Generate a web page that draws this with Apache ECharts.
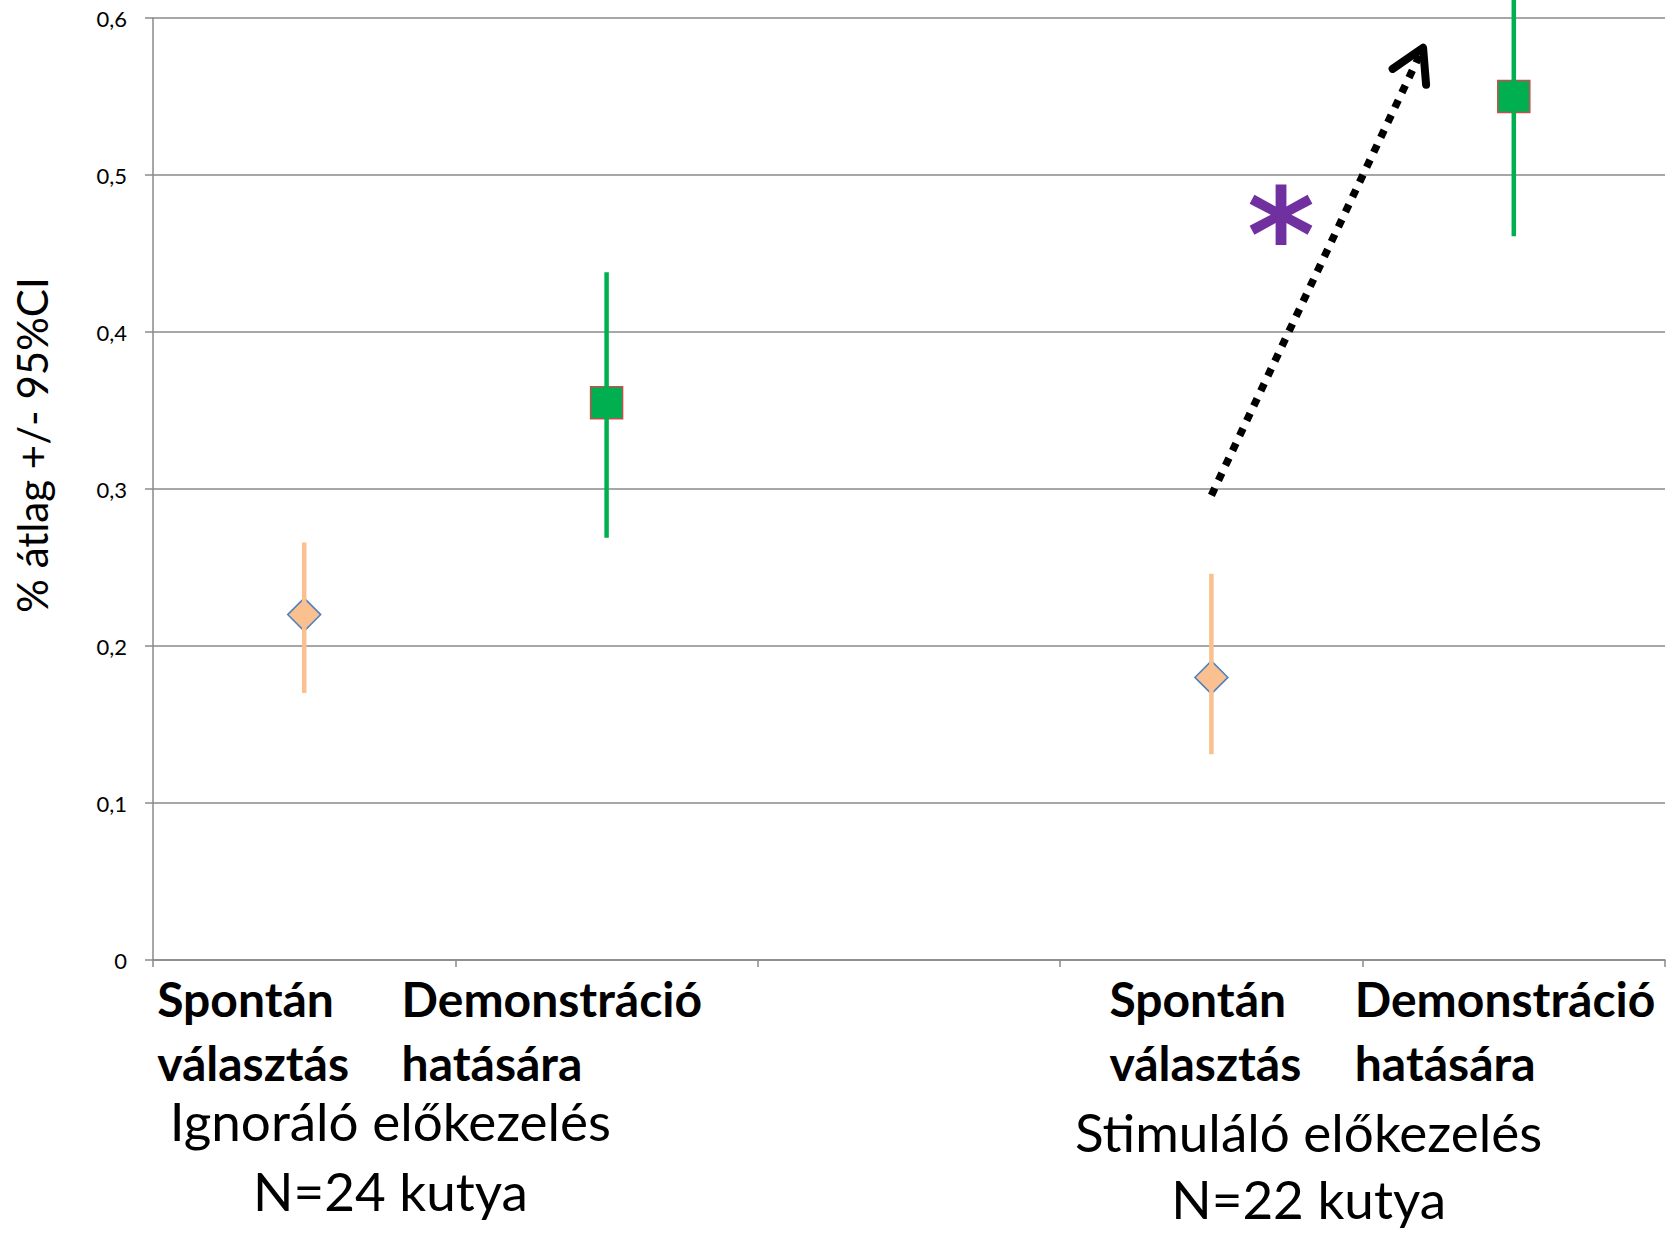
<!DOCTYPE html>
<html>
<head>
<meta charset="utf-8">
<script src="https://cdn.jsdelivr.net/npm/echarts@6/dist/echarts.min.js"></script>
<style>
html,body{margin:0;padding:0;background:#ffffff;}
#chart{width:1679px;height:1234px;}
</style>
</head>
<body>
<div id="chart"></div>
<script>
// ---------- DATA ----------
const categories = ['Spontán\nválasztás', 'Demonstráció\nhatására', '', 'Spontán\nválasztás', 'Demonstráció\nhatására'];
const conditions = ['spontan', 'demo', '', 'spontan', 'demo'];
const groupTitles = [['Ignoráló előkezelés', 'N=24 kutya'], ['Stimuláló előkezelés', 'N=22 kutya']];
const groupCategories = [[0, 1], [3, 4]];
const means = [0.22, 0.355, null, 0.18, 0.55];
const ciLower = [0.17, 0.269, null, 0.131, 0.461];
const ciUpper = [0.266, 0.438, null, 0.246, 0.639];
const yTickValues = [0, 0.1, 0.2, 0.3, 0.4, 0.5, 0.6];
const yTickLabels = ['0', '0,1', '0,2', '0,3', '0,4', '0,5', '0,6'];
const yAxisTitle = '% átlag +/- 95%CI';
// annotation: arrow from category 3 (value) to between categories 3 and 4
const arrowFrom = [3, 0.296];
const arrowTo = [3.70, 0.581];
const asteriskAt = [3.23, 0.478];
const asteriskText = '*';

// ---------- STYLE / LAYOUT (not data) ----------
const FONT = 'Lato, "Open Sans", "DejaVu Sans", sans-serif';
const GRAY = '#8a8a8a';
const colors = {
  spontan: { bar: '#FAC090', fill: '#FAC090', border: '#4F81BD' },
  demo: { bar: '#00B050', fill: '#00B050', border: '#C0504D' }
};
const labelDx = [-147, -205, 0, -102, -159];
const groupDx = [-65, -54];
const groupDy = [[160, 230], [171, 238]];

const xc = i => i + 0.5; // category centre on the value axis

const errData = [];
means.forEach((m, i) => { if (m != null) errData.push([xc(i), ciLower[i], ciUpper[i], i]); });
const diamondData = [], squareData = [];
means.forEach((m, i) => {
  if (m == null) return;
  if (conditions[i] === 'spontan') diamondData.push([xc(i), m]);
  else squareData.push([xc(i), m]);
});

const chart = echarts.init(document.getElementById('chart'), null, { renderer: 'svg' });

const option = {
  backgroundColor: '#ffffff',
  animation: false,
  grid: { left: 153, right: 14, top: 18, bottom: 274 },
  xAxis: {
    type: 'value', min: 0, max: categories.length, interval: 1,
    axisLine: { show: true, lineStyle: { color: GRAY, width: 1.5 } },
    axisTick: { show: true, length: 7, lineStyle: { color: GRAY, width: 1.5 } },
    axisLabel: { show: false },
    splitLine: { show: false }
  },
  yAxis: {
    type: 'value', min: 0, max: 0.6, interval: 0.1,
    name: yAxisTitle, nameLocation: 'middle', nameRotate: 90, nameGap: 100,
    nameTextStyle: { fontFamily: FONT, fontSize: 42, color: '#000', padding: [0, 0, 0, 88] },
    axisLine: { show: true, lineStyle: { color: GRAY, width: 1.5 } },
    axisTick: { show: true, length: 8, lineStyle: { color: GRAY, width: 1.5 } },
    axisLabel: {
      fontFamily: FONT, fontSize: 22, color: '#000', margin: 26,
      formatter: v => {
        const k = yTickValues.findIndex(t => Math.abs(t - v) < 1e-9);
        return k >= 0 ? yTickLabels[k] : '';
      }
    },
    splitLine: { show: true, lineStyle: { color: GRAY, width: 1.5 } }
  },
  series: [
    {
      name: 'Spontán választás', type: 'scatter', z: 2,
      symbol: 'diamond', symbolSize: 33,
      itemStyle: { color: colors.spontan.fill, borderColor: colors.spontan.border, borderWidth: 1.5, opacity: 1 },
      data: diamondData
    },
    {
      name: 'Demonstráció hatására', type: 'scatter', z: 2,
      symbol: 'rect', symbolSize: 32,
      itemStyle: { color: colors.demo.fill, borderColor: colors.demo.border, borderWidth: 1.5, opacity: 1 },
      data: squareData
    },
    {
      name: '95% CI', type: 'custom', z: 3, clip: false,
      data: errData,
      renderItem: (params, api) => {
        const x = api.value(0);
        const lo = api.coord([x, api.value(1)]);
        const hi = api.coord([x, api.value(2)]);
        const c = colors[conditions[api.value(3)]];
        return { type: 'line', shape: { x1: lo[0], y1: lo[1], x2: hi[0], y2: hi[1] },
                 style: { stroke: c.bar, lineWidth: 4.5 } };
      }
    },
    {
      name: 'categories', type: 'custom', z: 4, clip: false, silent: true,
      data: categories.map((c, i) => [xc(i), 0, i]),
      renderItem: (params, api) => {
        const i = api.value(2);
        if (!categories[i]) return null;
        const p = api.coord([api.value(0), 0]);
        return { type: 'text', x: p[0] + labelDx[i], y: p[1] + 70,
                 style: { text: categories[i], fontFamily: FONT, fontWeight: 'bold', fontSize: 48,
                          lineHeight: 64, fill: '#000', align: 'left', verticalAlign: 'middle' } };
      }
    },
    {
      name: 'groups', type: 'custom', z: 4, clip: false, silent: true,
      data: groupCategories.map((g, k) => [(xc(g[0]) + xc(g[1])) / 2, 0, k]),
      renderItem: (params, api) => {
        const k = api.value(2);
        const p = api.coord([api.value(0), 0]);
        return { type: 'group', children: groupTitles[k].map((line, j) => ({
          type: 'text', x: p[0] + groupDx[k], y: p[1] + groupDy[k][j],
          style: { text: line, fontFamily: FONT, fontSize: 53, lineHeight: 53,
                   fill: '#000', align: 'center', verticalAlign: 'middle' } })) };
      }
    },
    {
      name: 'arrow', type: 'custom', z: 5, clip: false, silent: true,
      data: [[xc(arrowFrom[0]), arrowFrom[1], xc(arrowTo[0]), arrowTo[1]]],
      renderItem: (params, api) => {
        const a = api.coord([api.value(0), api.value(1)]);
        const b = api.coord([api.value(2), api.value(3)]);
        const dx = a[0] - b[0], dy = a[1] - b[1];
        const len = Math.hypot(dx, dy);
        const ux = dx / len, uy = dy / len;
        const L = 37, ang = Math.PI / 6;
        const rot = (t) => [b[0] + L * (ux * Math.cos(t) - uy * Math.sin(t)), b[1] + L * (ux * Math.sin(t) + uy * Math.cos(t))];
        return { type: 'group', children: [
          { type: 'line', shape: { x1: a[0], y1: a[1], x2: b[0] + ux * 4, y2: b[1] + uy * 4 },
            style: { stroke: '#000', lineWidth: 7.5, lineDash: [8, 8.5], lineCap: 'butt' } },
          { type: 'polyline', shape: { points: [rot(ang), b, rot(-ang)] },
            style: { stroke: '#000', lineWidth: 8, fill: null, lineCap: 'round', lineJoin: 'round' } }
        ] };
      }
    },
    {
      name: 'significance', type: 'custom', z: 5, clip: false, silent: true,
      data: [[xc(asteriskAt[0]), asteriskAt[1]]],
      renderItem: (params, api) => {
        const p = api.coord([api.value(0), api.value(1)]);
        return { type: 'text', x: p[0], y: p[1] + 26,
                 style: { text: asteriskText, fontFamily: '"DejaVu Sans", sans-serif', fontWeight: 'bold',
                          fontSize: 130, fill: '#7030A0', align: 'center', verticalAlign: 'middle' } };
      }
    }
  ]
};
chart.setOption(option);
</script>
</body>
</html>
